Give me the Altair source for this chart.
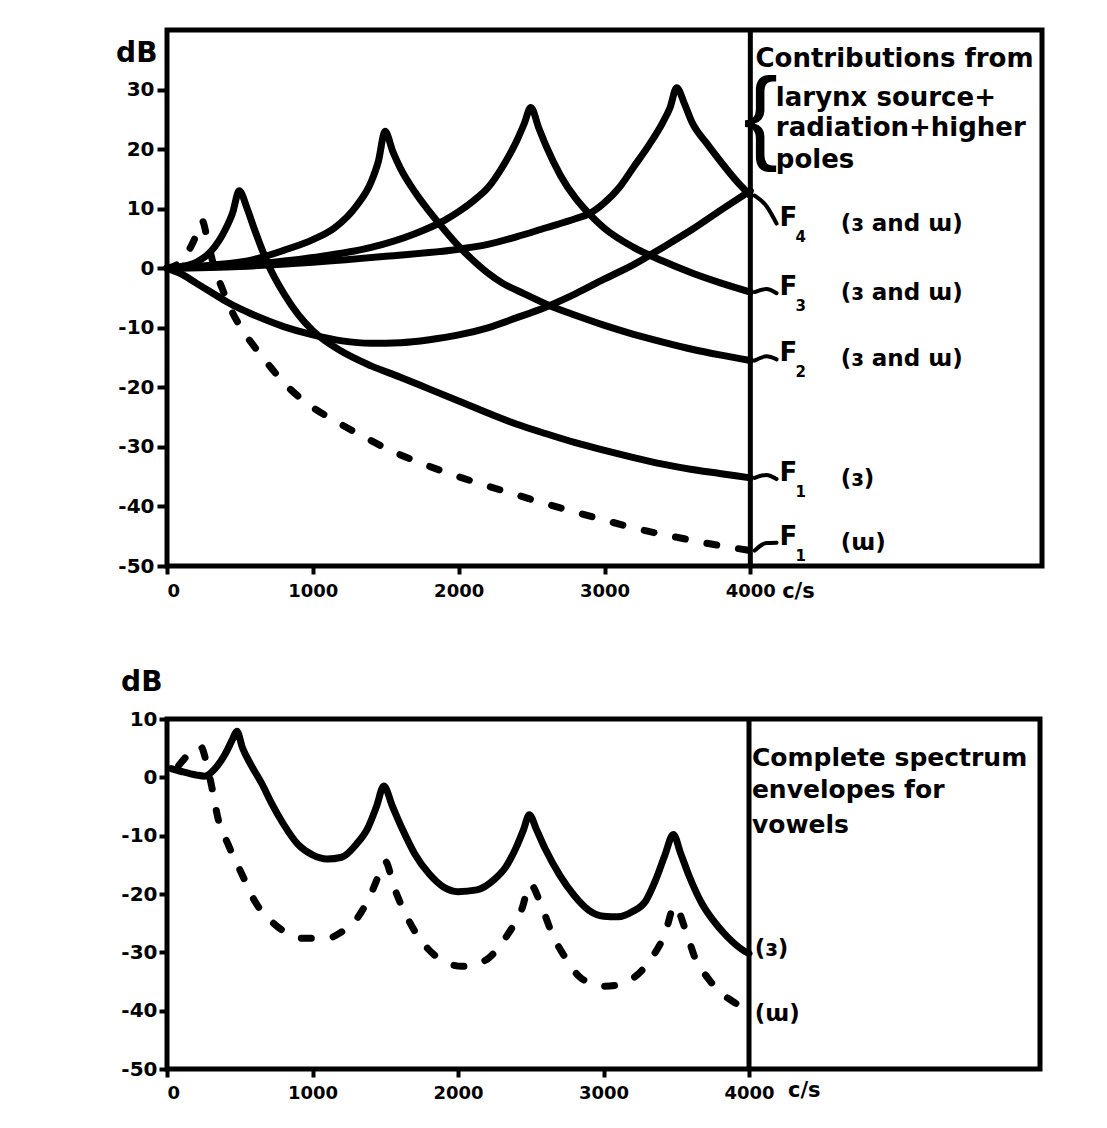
import altair as alt
import pandas as pd

# ---------------- axis ticks ----------------
FREQ_TICKS = [0, 1000, 2000, 3000, 4000]
TOP_DB_TICKS = [-50, -40, -30, -20, -10, 0, 10, 20, 30]
BOT_DB_TICKS = [-50, -40, -30, -20, -10, 0, 10]

# ---------------- top panel: contributions (dB vs c/s) ----------------
LARYNX_F = [0, 100, 200, 300, 400, 500, 600, 800, 1000, 1200, 1400, 1600, 1800, 2000,
            2200, 2400, 2600, 2800, 3000, 3200, 3400, 3600, 3800, 4000]
LARYNX_DB = [0, -1.0, -2.5, -4.0, -5.5, -6.8, -7.9, -9.8, -11.2, -12.2, -12.6, -12.5, -12.0, -11.2,
             -10.0, -8.3, -6.5, -4.3, -1.8, 0.6, 3.5, 6.5, 9.8, 13.0]

F4_F = [0, 500, 1000, 1500, 2000, 2200, 2400, 2600, 2800, 2900, 3000, 3100, 3200, 3300, 3400,
        3450, 3495, 3550, 3600, 3700, 3800, 3900, 4000]
F4_DB = [0, 0.3, 1.0, 2.0, 3.2, 4.0, 5.3, 6.8, 8.3, 9.2, 11.0, 13.5, 17.0, 20.5, 24.5,
         27.0, 30.3, 27.5, 24.5, 21.0, 17.8, 14.8, 12.2]

F3_F = [0, 500, 1000, 1400, 1700, 1900, 2000, 2100, 2200, 2300, 2400, 2450, 2495, 2550, 2600,
        2700, 2800, 2900, 3000, 3200, 3400, 3600, 3800, 4000]
F3_DB = [0, 0.5, 1.8, 3.5, 5.8, 8.0, 9.5, 11.3, 13.5, 17.0, 21.5, 24.3, 27.0, 23.5, 20.5,
         15.5, 11.8, 9.0, 6.7, 3.5, 1.2, -0.8, -2.5, -4.0]

F2_F = [0, 300, 600, 800, 1000, 1150, 1300, 1400, 1450, 1495, 1550, 1600, 1700, 1800, 1900,
        2000, 2100, 2200, 2300, 2450, 2625, 2800, 3000, 3200, 3400, 3600, 3800, 4000]
F2_DB = [0, 0.5, 1.5, 3.0, 4.8, 6.8, 10.5, 14.5, 18.0, 23.0, 19.5, 16.8, 12.8, 9.5, 6.5,
         3.7, 1.3, -0.8, -2.5, -4.3, -6.3, -7.9, -9.6, -11.1, -12.4, -13.6, -14.6, -15.5]

F1_E_F = [0, 100, 200, 300, 400, 450, 495, 550, 600, 700, 800, 900, 1000, 1200, 1400, 1600,
          1800, 2000, 2200, 2400, 2600, 2800, 3000, 3200, 3400, 3600, 3800, 4000]
F1_E_DB = [0, 0.3, 1.0, 2.8, 6.5, 9.3, 13.0, 10.0, 6.5, 0.3, -4.2, -7.8, -10.5, -14.0, -16.4, -18.3,
           -20.3, -22.3, -24.3, -26.2, -27.8, -29.3, -30.6, -31.8, -32.9, -33.8, -34.5, -35.2]

F1_U_F = [0, 100, 150, 200, 240, 280, 320, 380, 450, 520, 600, 700, 800, 950, 1150, 1350,
          1550, 1750, 1950, 2150, 2350, 2550, 2750, 3000, 3250, 3500, 3750, 4000]
F1_U_DB = [0, 1.2, 3.0, 5.5, 8.0, 4.5, 0.5, -3.5, -7.5, -10.5, -13.2, -16.3, -19.2, -22.5, -25.6, -28.3,
           -30.8, -32.8, -34.6, -36.2, -37.7, -39.2, -40.6, -42.3, -43.9, -45.2, -46.4, -47.4]

# ---------------- bottom panel: complete envelopes ----------------
ENV_E_F = [30, 100, 200, 260, 330, 400, 450, 480, 520, 580, 650, 720, 800, 900, 1000, 1100, 1200,
           1300, 1380, 1440, 1490, 1550, 1620, 1700, 1800, 1900, 2000, 2130, 2250, 2330, 2400,
           2450, 2490, 2540, 2600, 2700, 2800, 2900, 3000, 3100, 3200, 3290, 3360, 3420, 3480,
           3530, 3590, 3680, 3750, 3850, 3970, 4000]
ENV_E_DB = [1.5, 1.0, 0.4, 0.2, 1.5, 4.0, 6.5, 7.9, 5.0, 2.0, -1.0, -4.5, -8.0, -11.5, -13.3, -14.0, -13.7,
            -11.5, -8.7, -5.0, -1.5, -5.0, -9.0, -13.0, -16.5, -18.8, -19.6, -19.3, -17.5, -15.3, -12.0,
            -9.0, -6.4, -9.0, -12.3, -16.8, -20.3, -22.8, -23.8, -23.9, -23.0, -21.2, -17.5, -13.5, -9.8,
            -13.0, -17.0, -21.8, -24.4, -27.3, -29.8, -30.2]

ENV_U_F = [80, 150, 230, 280, 310, 350, 420, 515, 605, 740, 850, 930, 1100, 1200, 1290, 1350,
           1410, 1460, 1500, 1560, 1650, 1790, 1900, 2030, 2120, 2210, 2340, 2440, 2495, 2580,
           2650, 2740, 2850, 3010, 3100, 3200, 3330, 3420, 3490, 3560, 3630, 3720, 3810, 3900, 4000]
ENV_U_DB = [2.0, 4.0, 5.3, 1.5, -1.9, -7.0, -11.5, -16.6, -21.3, -25.2, -27.0, -27.6, -27.6, -26.5, -24.7, -22.5,
            -19.5, -16.5, -14.4, -18.8, -24.0, -29.3, -31.5, -32.4, -32.0, -31.0, -27.0, -22.5, -18.3, -22.5,
            -27.0, -31.0, -34.5, -35.8, -35.6, -34.5, -31.0, -27.0, -22.0, -25.9, -31.0, -34.5, -37.0, -38.6, -40.0]

# ---------------- annotation texts ----------------
TOP_HEAD = ["Contributions from", "larynx source+", "radiation+higher", "poles"]
TOP_HEAD_F = [4035, 4175, 4175, 4175]
TOP_HEAD_DB = [35.2, 28.5, 23.5, 18.1]

TOP_LAB_SUB = ["4", "3", "2", "1", "1"]
TOP_LAB_TXT = ["(ɜ and ɯ)", "(ɜ and ɯ)", "(ɜ and ɯ)", "(ɜ)", "(ɯ)"]
TOP_LAB_DB = [7.5, -4.2, -15.3, -35.4, -46.1]
TOP_LAB_END = [F4_DB[-1], F3_DB[-1], F2_DB[-1], F1_E_DB[-1], F1_U_DB[-1]]

BOT_HEAD = ["Complete spectrum", "envelopes  for", "vowels"]
BOT_HEAD_DB = [3.3, -2.1, -8.1]
BOT_LAB_TXT = ["(ɜ)", "(ɯ)"]
BOT_LAB_DB = [-29.5, -40.6]

FONT = "DejaVu Sans"


def curve(name, f, db):
    return pd.DataFrame({"f": f, "db": db, "curve": name})


def x_enc(pad):
    return alt.X("f:Q", scale=alt.Scale(domain=[0, 6000], nice=False, zero=False),
                 axis=alt.Axis(values=FREQ_TICKS, format="d", title=None, domain=False, grid=False,
                               labelFont=FONT, labelFontWeight="bold", labelFontSize=18,
                               labelColor="black", tickColor="black", tickSize=8, tickWidth=4,
                               labelPadding=pad))


def y_enc(domain, ticks, title_x, title_y, min_extent, tick_size, label_pad):
    return alt.Y("db:Q", scale=alt.Scale(domain=domain, nice=False, zero=False),
                 axis=alt.Axis(values=ticks, labelExpr="'' + datum.value", domain=False, grid=False,
                               labelFont=FONT, labelFontWeight="bold", labelFontSize=20,
                               labelColor="black", tickColor="black", tickSize=tick_size, tickWidth=4,
                               labelPadding=label_pad, minExtent=min_extent,
                               title="dB", titleAngle=0, titleX=title_x, titleY=title_y,
                               titleAlign="right", titleBaseline="middle", titleFont=FONT,
                               titleFontSize=28, titleFontWeight="bold", titleColor="black"))


line_style = dict(color="black", strokeWidth=7, interpolate="monotone",
                  strokeCap="round", strokeJoin="round")
txt = dict(font=FONT, fontWeight="bold", color="black", baseline="middle")

# ================= TOP PANEL =================
TW, TH = 875, 536
XT = x_enc(8)
YT = y_enc([-50, 40], TOP_DB_TICKS, -10, 23, 45, 10, 3)

top_solid = pd.concat([curve("larynx", LARYNX_F, LARYNX_DB), curve("F4", F4_F, F4_DB),
                       curve("F3", F3_F, F3_DB), curve("F2", F2_F, F2_DB),
                       curve("F1e", F1_E_F, F1_E_DB)])
top_dash = curve("F1u", F1_U_F, F1_U_DB)

t_solid = alt.Chart(top_solid).mark_line(**line_style).encode(x=XT, y=YT, detail="curve:N")
t_dash = alt.Chart(top_dash).mark_line(**line_style, strokeDash=[10, 22]).encode(x=XT, y=YT)
t_rule = alt.Chart(pd.DataFrame({"f": [4000]})).mark_rule(color="black", strokeWidth=5).encode(x=XT)

leader_rows = []
for i, (e, l) in enumerate(zip(TOP_LAB_END, TOP_LAB_DB)):
    leader_rows += [{"f": 4030, "db": e, "k": i}, {"f": 4110, "db": (e + l) / 2 + 0.6, "k": i},
                    {"f": 4180, "db": l, "k": i}]
t_lead = alt.Chart(pd.DataFrame(leader_rows)).mark_line(
    color="black", strokeWidth=4, interpolate="monotone", strokeCap="round").encode(x=XT, y=YT, detail="k:N")

t_head = alt.Chart(pd.DataFrame({"f": TOP_HEAD_F, "db": TOP_HEAD_DB, "t": TOP_HEAD})).mark_text(
    align="left", fontSize=26, **txt).encode(x=XT, y=YT, text="t:N")

t_brace = alt.Chart(pd.DataFrame({"f": [4070], "db": [25.0], "t": ["{"]})).mark_text(
    align="center", baseline="middle", font="Liberation Sans", fontSize=104, color="black"
).encode(x=XT, y=YT, text="t:N")

t_F = alt.Chart(pd.DataFrame({"f": [4200] * 5, "db": TOP_LAB_DB, "t": ["F"] * 5})).mark_text(
    align="left", dy=-6, fontSize=26, **txt).encode(x=XT, y=YT, text="t:N")
t_S = alt.Chart(pd.DataFrame({"f": [4310] * 5, "db": TOP_LAB_DB, "t": TOP_LAB_SUB})).mark_text(
    align="left", dy=13, fontSize=15, **txt).encode(x=XT, y=YT, text="t:N")
t_T = alt.Chart(pd.DataFrame({"f": [4620] * 5, "db": TOP_LAB_DB, "t": TOP_LAB_TXT})).mark_text(
    align="left", fontSize=23, **txt).encode(x=XT, y=YT, text="t:N")

t_cs = alt.Chart(pd.DataFrame({"f": [4330], "t": ["c/s"]})).mark_text(
    align="center", fontSize=21, **txt).encode(x=XT, y=alt.value(TH + 26), text="t:N")

top = alt.layer(t_solid, t_dash, t_rule, t_lead, t_head, t_brace, t_F, t_S, t_T, t_cs).properties(
    width=TW, height=TH)

# ================= BOTTOM PANEL =================
BW, BH = 873, 350
XB = x_enc(7)
YB = y_enc([-50, 10], BOT_DB_TICKS, -5, -37, 50, 8, 2)

b_solid = alt.Chart(curve("e", ENV_E_F, ENV_E_DB)).mark_line(**line_style).encode(x=XB, y=YB)
b_dash = alt.Chart(curve("u", ENV_U_F, ENV_U_DB)).mark_line(**line_style, strokeDash=[10, 22]).encode(x=XB, y=YB)
b_rule = alt.Chart(pd.DataFrame({"f": [4000]})).mark_rule(color="black", strokeWidth=5).encode(x=XB)

b_head = alt.Chart(pd.DataFrame({"f": [4020] * 3, "db": BOT_HEAD_DB, "t": BOT_HEAD})).mark_text(
    align="left", fontSize=25, **txt).encode(x=XB, y=YB, text="t:N")
b_lab = alt.Chart(pd.DataFrame({"f": [4040] * 2, "db": BOT_LAB_DB, "t": BOT_LAB_TXT})).mark_text(
    align="left", fontSize=23, **txt).encode(x=XB, y=YB, text="t:N")
b_cs = alt.Chart(pd.DataFrame({"f": [4380], "t": ["c/s"]})).mark_text(
    align="center", fontSize=21, **txt).encode(x=XB, y=alt.value(BH + 22), text="t:N")

bottom = alt.layer(b_solid, b_dash, b_rule, b_head, b_lab, b_cs).properties(width=BW, height=BH)

chart = alt.vconcat(top, bottom, spacing=60).properties(
    padding={"left": 105, "top": 17, "right": 5, "bottom": 5},
    background="white",
).configure_view(stroke="black", strokeWidth=5)

chart.save("out.html", embed_options={"renderer": "svg", "actions": False})
